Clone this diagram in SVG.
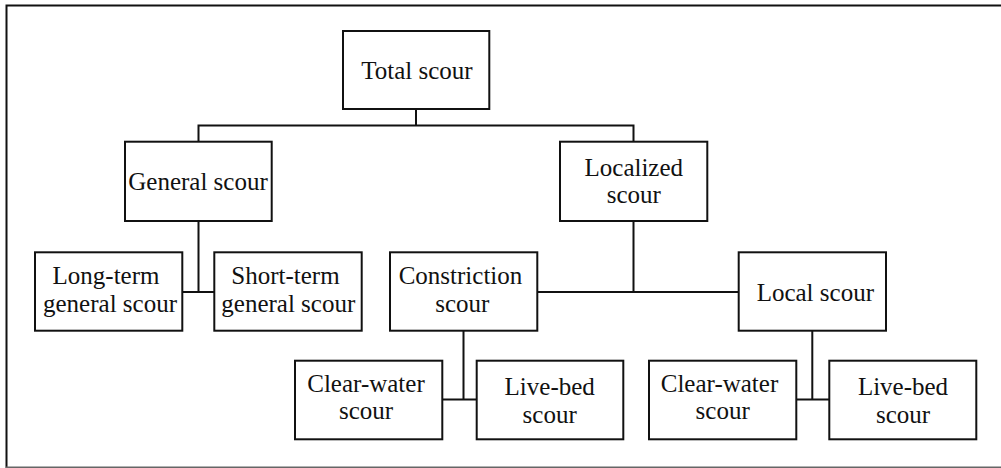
<svg xmlns="http://www.w3.org/2000/svg" width="1001" height="468" viewBox="0 0 1001 468">
<style>
.box{fill:#fff;stroke:#111;stroke-width:2}
.ln{stroke:#111;stroke-width:2;fill:none}
text{font-family:"Liberation Serif","Times New Roman",serif;font-size:25px;fill:#111;text-anchor:middle}
</style>
<rect width="1001" height="468" fill="#fff"/>
<g id="frame">
<path class="ln" d="M6.5,468 V5.5 H1001"/>
<path d="M6,467.3 H1001" stroke="#666" stroke-width="1.5"/>
</g>
<g id="connectors">
<path class="ln" d="M416,109 V125.5 M198.5,141.7 V125.5 H633.5 V141.7"/>
<path class="ln" d="M198.5,221 V292 M182.3,292 H214.3"/>
<path class="ln" d="M633.5,221 V292 M537.3,292 H738.7"/>
<path class="ln" d="M463.5,330.7 V399.5 M442.3,399.5 H476.7"/>
<path class="ln" d="M812.3,330.7 V399.5 M796.3,399.5 H829.3"/>
</g>
<g id="total"><rect class="box" x="343" y="31" width="146.3" height="78"/><text x="417" y="79">Total scour</text></g>
<g id="general"><rect class="box" x="125" y="141.7" width="146.7" height="79.3"/><text x="198" y="190">General scour</text></g>
<g id="localized"><rect class="box" x="560" y="141.7" width="147.3" height="79.3"/><text x="633.8" y="175.7">Localized</text><text x="633.8" y="203.3">scour</text></g>
<g id="longterm"><rect class="box" x="35" y="252.3" width="147.3" height="78.4"/><text x="106" y="284">Long-term</text><text x="110" y="311.7">general scour</text></g>
<g id="shortterm"><rect class="box" x="214.3" y="252.3" width="147.4" height="78.4"/><text x="285.5" y="284">Short-term</text><text x="288.3" y="311.7">general scour</text></g>
<g id="constriction"><rect class="box" x="390" y="252.3" width="147.3" height="78.4"/><text x="460.5" y="284">Constriction</text><text x="462.3" y="311.7">scour</text></g>
<g id="local"><rect class="box" x="738.7" y="252.3" width="147.3" height="78.4"/><text x="815.3" y="300.7">Local scour</text></g>
<g id="clearwater1"><rect class="box" x="295" y="360.7" width="147.3" height="78.6"/><text x="366" y="391.7">Clear-water</text><text x="366" y="419.3">scour</text></g>
<g id="livebed1"><rect class="box" x="476.7" y="360.7" width="146.6" height="78.6"/><text x="549.7" y="395">Live-bed</text><text x="549.7" y="422.7">scour</text></g>
<g id="clearwater2"><rect class="box" x="649" y="360.7" width="147.3" height="78.6"/><text x="719.5" y="391.7">Clear-water</text><text x="722.7" y="419.3">scour</text></g>
<g id="livebed2"><rect class="box" x="829.3" y="360.7" width="147" height="78.6"/><text x="903" y="395">Live-bed</text><text x="903" y="422.7">scour</text></g>
</svg>
